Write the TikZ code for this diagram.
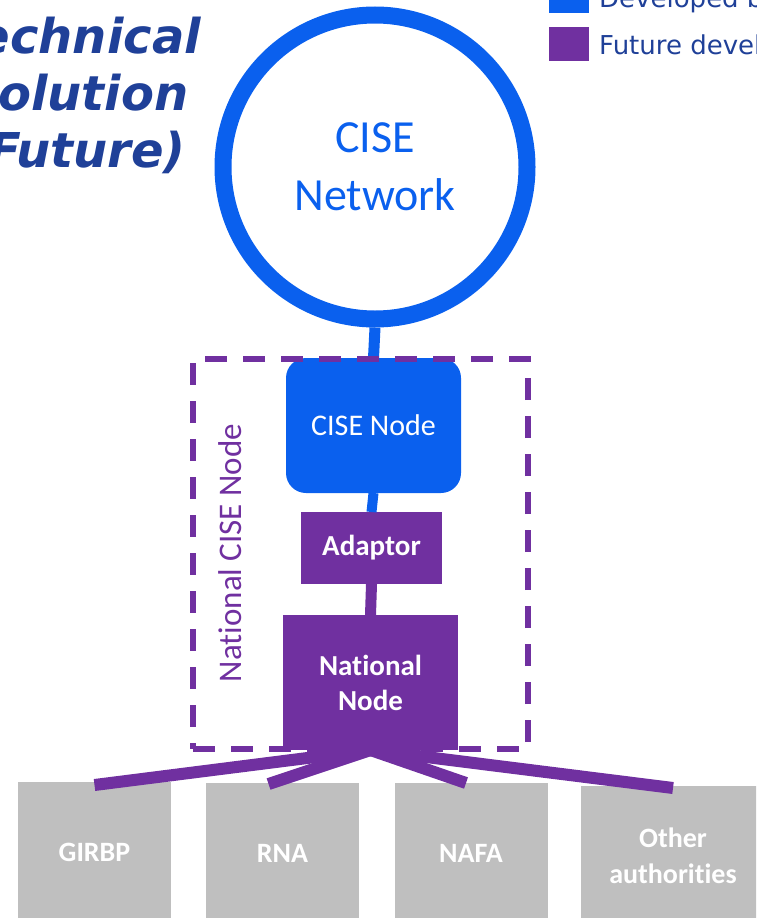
\documentclass[tikz,border=0pt]{standalone}
\usepackage{fontspec}
\setmainfont{Carlito}[Ligatures=NoCommon]
\newfontfamily\verdanafont{DejaVu Sans}
\usetikzlibrary{calc}
\definecolor{ciseblue}{RGB}{10,96,238}
\definecolor{futpurple}{RGB}{112,48,160}
\definecolor{titleblue}{RGB}{31,64,152}
\definecolor{authgray}{RGB}{191,191,191}
\tikzset{
	cisebox/.style={fill=ciseblue, text=white, rounded corners=20pt, minimum width=175pt, minimum height=135pt, inner sep=0pt, outer sep=0pt, font=\fontsize{30}{36}\selectfont},
	futbox/.style={fill=futpurple, text=white, inner sep=0pt, outer sep=0pt, align=center, font=\bfseries\fontsize{29}{35}\selectfont},
	authbox/.style={fill=authgray, text=white, minimum width=153pt, minimum height=140pt, inner sep=0pt, outer sep=0pt, align=center, font=\bfseries\fontsize{28}{36}\selectfont},
	bluelink/.style={draw=ciseblue, line width=11pt},
	purplelink/.style={draw=futpurple, line width=12pt},
	legbox/.style={minimum width=40pt, minimum height=34pt, inner sep=0pt, outer sep=0pt},
	legtext/.style={anchor=base west, text=titleblue, inner sep=0pt, font=\verdanafont\fontsize{26}{31}\selectfont}
}

\begin{document}
\begin{tikzpicture}[x=1pt, y=-1pt]
			%%%%% START %%%%%
			\useasboundingbox (0,0) rectangle (756,918);
			\clip (0,0) rectangle (756,918);
			
			\node[align=center, text=titleblue, font=\verdanafont\bfseries\itshape\fontsize{48}{57}\selectfont] (title) at (76,95) {Technical\\Solution\\(Future)};
			
			\node[legbox, fill=ciseblue] (legdev) at (569,-4) {};
			\node[legbox, fill=futpurple] (legfut) at (569,44) {};
			\node[legtext] (legdevtext) at (599,8) {Developed by};
			\node[legtext] (legfuttext) at (599,54) {Future development};
			
			\node[circle, draw=ciseblue, line width=17pt, minimum size=304pt, inner sep=0pt, align=center, text=ciseblue, font=\fontsize{46}{58}\selectfont] (net) at (375,167) {CISE\\Network};
			
			\node[rotate=90, text=futpurple, font=\fontsize{33}{39}\selectfont] (natlabel) at (230,553) {National CISE Node};
			
			\node[cisebox] (cise) at (373.5,425.5) {CISE Node};
			\node[futbox, minimum width=141pt, minimum height=72pt] (adaptor) at (371.5,548) {Adaptor};
			\node[futbox, minimum width=175pt, minimum height=135pt] (national) at (370.5,682.5) {National\\Node};
			
			\node[authbox] (girbp) at (94.5,852) {GIRBP};
			\node[authbox] (rna) at (282.5,853) {RNA};
			\node[authbox] (nafa) at (471,853) {NAFA};
			\node[authbox, minimum width=184pt] (other) at (673,856) {Other\\authorities};
			
			\draw[bluelink] (net.south) -- (cise.north);
			\draw[bluelink, line width=10pt] (cise.south) -- (adaptor.north);
			\draw[purplelink, line width=11pt] (adaptor.south) -- (national.north);
			
			\draw[purplelink] (national.south) -- ([yshift=-3pt]girbp.north);
			\draw[purplelink] (national.south) -- ([xshift=-14pt, yshift=-1pt]rna.north);
			\draw[purplelink] (national.south) -- ([xshift=-5pt]nafa.north);
			\draw[purplelink] (national.south) -- ([yshift=-2pt]other.north);
			
			\node[draw=futpurple, line width=6pt, dash pattern=on 22pt off 16pt, minimum width=335pt, minimum height=390pt, inner sep=0pt] (natframe) at (360.5,554) {};
			
			%%%%% END %%%%%
\end{tikzpicture}
\end{document}
